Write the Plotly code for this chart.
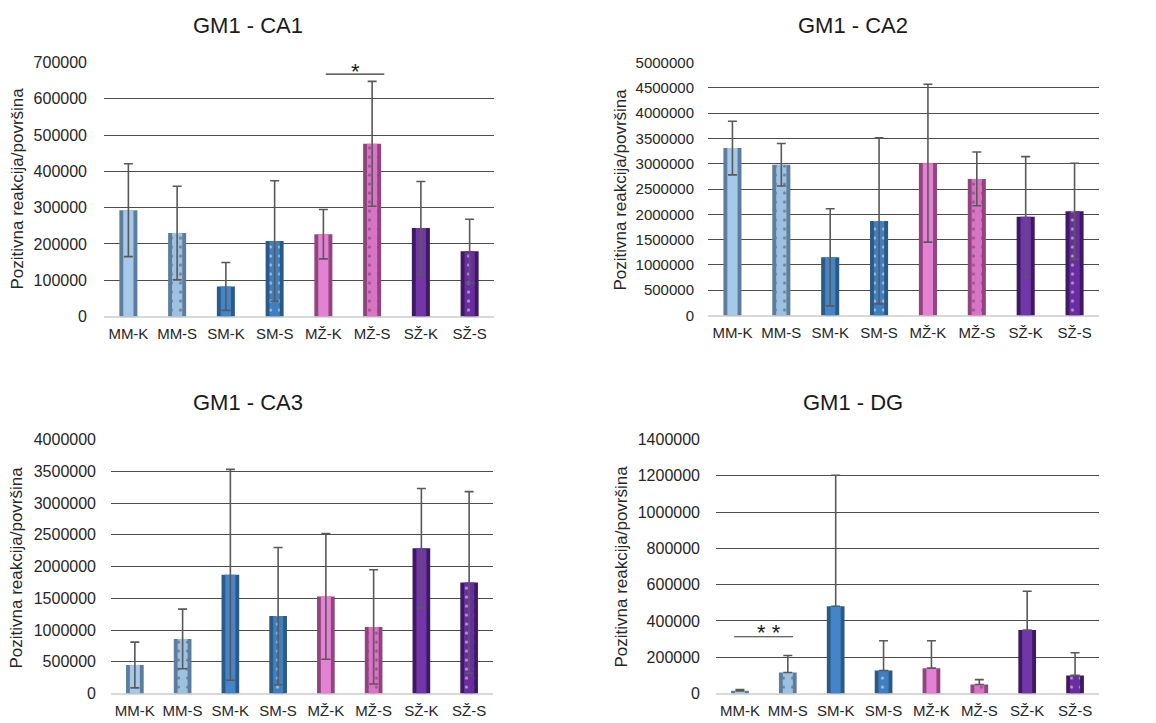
import plotly.graph_objects as go

W, H = 1156, 723

categories = ["MM-K", "MM-S", "SM-K", "SM-S", "MŽ-K", "MŽ-S", "SŽ-K", "SŽ-S"]

ca1_mean = [293000, 230000, 83000, 208000, 227000, 476000, 244000, 180000]
ca1_err = [128000, 129000, 66000, 166000, 68000, 172000, 128000, 88000]

ca2_mean = [3310000, 2980000, 1150000, 1870000, 3010000, 2700000, 1950000, 2060000]
ca2_err = [530000, 420000, 960000, 1640000, 1560000, 530000, 1190000, 950000]

ca3_mean = [450000, 860000, 1870000, 1220000, 1530000, 1050000, 2290000, 1750000]
ca3_err = [360000, 470000, 1660000, 1080000, 990000, 900000, 940000, 1430000]

dg_mean = [15000, 116000, 481000, 127000, 140000, 50000, 350000, 100000]
dg_err = [7000, 94000, 722000, 164000, 151000, 27000, 214000, 125000]

titles = ["GM1 - CA1", "GM1 - CA2", "GM1 - CA3", "GM1 - DG"]
y_title = "Pozitivna reakcija/površina"

edge_colors = ["#5d7d9e", "#5d7d9e", "#2c5a87", "#2c5a87", "#92447f", "#92447f", "#3c1a64", "#3c1a64"]
main_colors = ["#a6c9ea", "#9dc1e2", "#4385c8", "#3f7fbf", "#e382d2", "#d873c6", "#7236a9", "#6a2da0"]
dotted = [False, True, False, True, False, True, False, True]


# page placement compensation (target pixel -> paper coordinate)
def PX(q):
    return (q - 8) / W


def PY(q):
    return 1 - ((q - 16.5) / 0.975) / H


boxes = [(104, 494, 62, 316), (708, 1099, 62, 315), (111, 493, 439, 693), (716, 1099, 439, 693)]
ranges = [700000, 5000000, 4000000, 1400000]
dticks = [100000, 500000, 500000, 200000]
tickfs = [16, 15, 16, 16]
standoffs = [16, 13, 14, 15]
series = [(ca1_mean, ca1_err, False), (ca2_mean, ca2_err, False),
          (ca3_mean, ca3_err, False), (dg_mean, dg_err, True)]
title_pos = [(248, 25), (853, 25), (248, 402), (853, 402)]
ytitle_pos = [(18, 188), (621, 189), (17, 567), (622, 566)]

fig = go.Figure()
layout = {}
for i in range(4):
    sx = "" if i == 0 else str(i + 1)
    xa, ya = "x" + sx, "y" + sx
    mean, err, plus_only = series[i]
    fig.add_trace(go.Bar(
        x=categories, y=mean, xaxis=xa, yaxis=ya, width=0.37,
        marker=dict(color=edge_colors, line=dict(width=0)),
        showlegend=False, hoverinfo="skip"))
    ekw = dict(type="data", array=err, color="#595959", thickness=1.6, width=4.5)
    if plus_only:
        ekw.update(symmetric=False, arrayminus=[0] * len(err))
    fig.add_trace(go.Bar(
        x=categories, y=mean, xaxis=xa, yaxis=ya, width=0.21,
        marker=dict(color=main_colors, line=dict(width=0),
                    pattern=dict(shape=["." if d else "" for d in dotted],
                                 fgcolor="white", size=9, solidity=0.1)),
        error_y=ekw, showlegend=False))
    x0, x1, yt, yb = boxes[i]
    layout["xaxis" + sx] = dict(
        domain=[PX(x0), PX(x1)], anchor=ya, type="category", range=[-0.5, 7.5],
        showgrid=False, showline=False, ticks="", fixedrange=True, ticklabelstandoff=6,
        tickfont=dict(family="Liberation Sans, Arial", size=15, color="#262626"))
    layout["yaxis" + sx] = dict(
        domain=[PY(yb), PY(yt)], anchor=xa, range=[0, ranges[i]],
        dtick=dticks[i], tickformat="d", showgrid=True, gridcolor="#4d4d4d",
        gridwidth=1.3, zeroline=True, zerolinecolor="#d9d9d9", zerolinewidth=2,
        showline=False, ticks="", ticklabelstandoff=standoffs[i],
        tickfont=dict(family="Liberation Sans, Arial", size=tickfs[i], color="#262626"))

annotations = []
for i in range(4):
    tx, ty = title_pos[i]
    annotations.append(dict(text=titles[i], x=PX(tx), y=PY(ty), xref="paper", yref="paper",
                            showarrow=False, xanchor="center", yanchor="middle",
                            font=dict(family="Liberation Sans, Arial", size=22, color="#1a1a1a")))
    yx, yy = ytitle_pos[i]
    annotations.append(dict(text=y_title, x=PX(yx), y=PY(yy), xref="paper", yref="paper",
                            showarrow=False, textangle=-90, xanchor="center", yanchor="middle",
                            font=dict(family="Liberation Sans, Arial", size=17, color="#262626")))

annotations.append(dict(text="*", x=4.65, y=668000, xref="x", yref="y", showarrow=False,
                        yanchor="bottom", yshift=-12,
                        font=dict(family="Liberation Sans, Arial", size=22, color="#1a1a1a")))
annotations.append(dict(text="* *", x=0.6, y=313000, xref="x4", yref="y4", showarrow=False,
                        yanchor="bottom", yshift=-10,
                        font=dict(family="Liberation Sans, Arial", size=22, color="#1a1a1a")))
shapes = [
    dict(type="line", xref="x", yref="y", x0=4.05, x1=5.25, y0=668000, y1=668000,
         line=dict(color="#333333", width=1.2)),
    dict(type="line", xref="x4", yref="y4", x0=-0.12, x1=1.11, y0=313000, y1=313000,
         line=dict(color="#333333", width=1.2)),
]

fig.update_layout(
    width=W, height=H, margin=dict(l=0, r=0, t=0, b=0),
    paper_bgcolor="white", plot_bgcolor="white", barmode="overlay",
    annotations=annotations, shapes=shapes, **layout)

fig.write_html("out.html")
